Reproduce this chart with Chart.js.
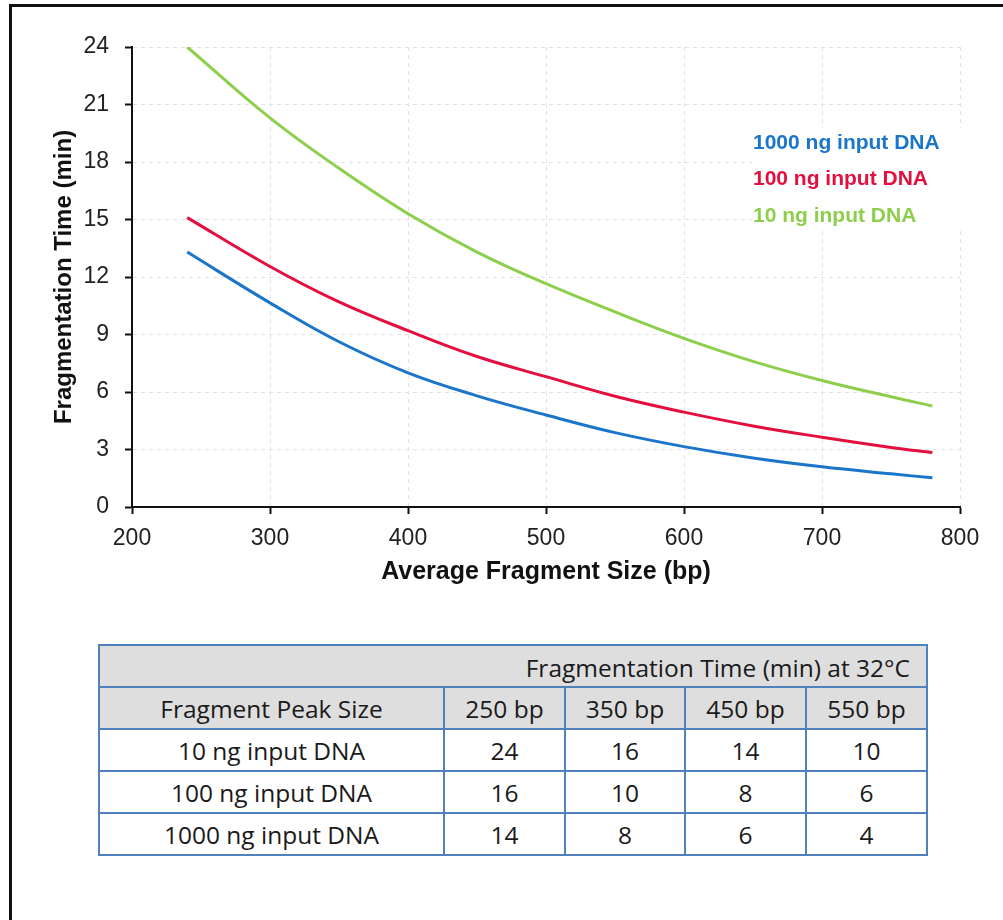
<!DOCTYPE html>
<html>
<head>
<meta charset="utf-8">
<script src="https://cdn.jsdelivr.net/npm/chart.js@4"></script>
<style>
  html, body { margin: 0; padding: 0; background: #fff; }
  body { width: 1003px; height: 920px; position: relative; overflow: hidden; }
  #frame { position: absolute; left: 9px; top: 4px; width: 1100px; height: 1000px;
           border-left: 3px solid #111; border-top: 3px solid #111; }
  #wrap { position: absolute; left: 0; top: 0; width: 1003px; height: 600px; }
  #tbl { position: absolute; left: 98px; top: 644px; border-collapse: collapse;
         font-family: "Open Sans", "Noto Sans", sans-serif; font-size: 24.5px; color: #1a1a1a; }
  #tbl td { border: 2px solid #4F81BD; height: 38px; padding: 2px 0 0 0; text-align: center; line-height: 38px; }
  #tbl tr.hd td { background: #DEDEDE; }
  #tbl td.top { text-align: right; padding-right: 16px; padding-top: 3px; height: 37px; line-height: 37px; }
</style>
</head>
<body>
<div id="frame"></div>
<div id="wrap"><canvas id="c" width="1003" height="600"></canvas></div>
<table id="tbl"></table>
<script>
// ---- chart data ----
const fragmentSizes = [240, 300, 350, 400, 450, 500, 550, 600, 650, 700, 750, 780];
const time1000ng = [13.3, 10.65, 8.62, 7.0, 5.8, 4.8, 3.88, 3.15, 2.56, 2.1, 1.73, 1.52];
const time100ng  = [15.1, 12.55, 10.7, 9.2, 7.85, 6.8, 5.78, 4.95, 4.23, 3.64, 3.11, 2.84];
const time10ng   = [24.0, 20.3, 17.67, 15.3, 13.3, 11.65, 10.18, 8.8, 7.6, 6.6, 5.75, 5.27];
const seriesLabels = ["1000 ng input DNA", "100 ng input DNA", "10 ng input DNA"];
const seriesColors = ["#1B75C9", "#E3103F", "#8DCF4D"];
const xTitle = "Average Fragment Size (bp)";
const yTitle = "Fragmentation Time (min)";

// ---- table data ----
const tableTitle = "Fragmentation Time (min) at 32°C";
const tableRowHeader = "Fragment Peak Size";
const tableColumns = ["250 bp", "350 bp", "450 bp", "550 bp"];
const tableRowLabels = ["10 ng input DNA", "100 ng input DNA", "1000 ng input DNA"];
const tableValues10ng = [24, 16, 14, 10];
const tableValues100ng = [16, 10, 8, 6];
const tableValues1000ng = [14, 8, 6, 4];

// build table
(function () {
  const t = document.getElementById('tbl');
  const colW = [345, 121, 120, 121, 121];
  let html = '<colgroup>' + colW.map(w => '<col style="width:' + w + 'px">').join('') + '</colgroup>';
  html += '<tr class="hd"><td class="top" colspan="5">' + tableTitle + '</td></tr>';
  html += '<tr class="hd"><td>' + tableRowHeader + '</td>' + tableColumns.map(c => '<td>' + c + '</td>').join('') + '</tr>';
  const vals = [tableValues10ng, tableValues100ng, tableValues1000ng];
  tableRowLabels.forEach((lab, i) => {
    html += '<tr><td>' + lab + '</td>' + vals[i].map(v => '<td>' + v + '</td>').join('') + '</tr>';
  });
  t.innerHTML = html;
})();

const seriesData = [time1000ng, time100ng, time10ng];
const datasets = seriesData.map((arr, i) => ({
  label: seriesLabels[i],
  data: fragmentSizes.map((x, j) => ({ x: x, y: arr[j] })),
  borderColor: seriesColors[i],
  backgroundColor: seriesColors[i],
  borderWidth: 3,
  pointRadius: 0,
  fill: false,
  tension: 0.4
}));

const legendPlugin = {
  id: 'inlineLegend',
  beforeDatasetsDraw(chart) {
    const ctx = chart.ctx;
    const a = chart.chartArea;
    ctx.save();
    ctx.fillStyle = '#ffffff';
    ctx.fillRect(a.right - 208, a.top + 81, 214, 99);
    ctx.font = 'bold 21px "Liberation Sans", Arial, sans-serif';
    ctx.textBaseline = 'middle';
    ctx.textAlign = 'left';
    chart.data.datasets.forEach((ds, i) => {
      ctx.fillStyle = ds.borderColor;
      ctx.fillText(ds.label, a.right - 207, a.top + 96 + i * 36.5);
    });
    ctx.restore();
  }
};

const tickFont = { family: '"Liberation Sans", Arial, sans-serif', size: 23 };

new Chart(document.getElementById('c'), {
  type: 'line',
  data: { datasets: datasets },
  plugins: [legendPlugin],
  options: {
    responsive: false,
    animation: false,
    layout: { padding: { top: 47, right: 43, bottom: 0, left: 0 } },
    plugins: { legend: { display: false }, tooltip: { enabled: false } },
    scales: {
      x: {
        type: 'linear', min: 200, max: 800,
        ticks: { stepSize: 100, color: '#222', font: tickFont, padding: 11, maxRotation: 0 },
        grid: { color: '#E2E2E2', lineWidth: 1, tickColor: '#111', tickLength: 7, tickWidth: 2 },
        border: { color: '#111', width: 2, dash: [4, 4] },
        title: { display: true, text: xTitle, color: '#111',
                 font: { family: '"Liberation Sans", Arial, sans-serif', size: 25, weight: 'bold' },
                 padding: { top: 0, bottom: 13 } },
        afterFit(s) { s.height = 93; }
      },
      y: {
        min: 0, max: 24,
        ticks: { stepSize: 3, color: '#222', font: tickFont, padding: 16 },
        grid: { color: '#E2E2E2', lineWidth: 1, tickColor: '#111', tickLength: 7, tickWidth: 2 },
        border: { color: '#111', width: 2, dash: [4, 4] },
        title: { display: true, text: yTitle, color: '#111',
                 font: { family: '"Liberation Sans", Arial, sans-serif', size: 24, weight: 'bold' },
                 padding: { top: 50, bottom: 0 } },
        afterFit(s) { s.width = 132; }
      }
    }
  }
});
</script>
</body>
</html>
